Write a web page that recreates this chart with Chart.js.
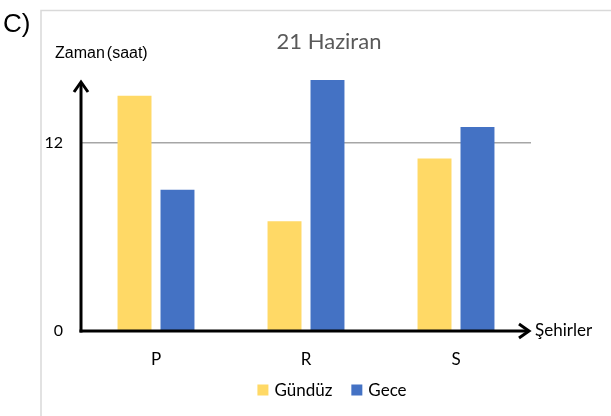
<!DOCTYPE html>
<html>
<head>
<meta charset="utf-8">
<script src="https://cdn.jsdelivr.net/npm/chart.js@4/dist/chart.umd.min.js"></script>
<style>
  html, body { margin: 0; padding: 0; background: #fff; }
  canvas { display: block; }
</style>
</head>
<body>
<canvas id="myChart" width="611" height="416"></canvas>
<script>
// values
const categories = ['P', 'R', 'S'];
const gunduz = [15, 7, 11];
const gece = [9, 16, 13];
const yTicks = [0, 12];
const seriesNames = ['Gündüz', 'Gece'];
const chartTitle = '21 Haziran';
const yTitle = 'Zaman (saat)';
const xTitle = 'Şehirler';
const partLabel = 'C)';

const yellow = '#FFD966';
const blue = '#4472C4';
const calibriLike = 'Lato, "Open Sans", sans-serif';
const arialLike = '"Liberation Sans", Arial, sans-serif';

// draws the frame, titles, arrow axes and the legend
const extras = {
  id: 'extras',
  afterDraw(chart) {
    const ctx = chart.ctx;
    const a = chart.chartArea;
    const y = chart.scales.y;
    const zeroY = y.getPixelForValue(0);
    ctx.save();

    // frame (only top and left visible)
    ctx.strokeStyle = '#d9d9d9';
    ctx.lineWidth = 1.5;
    ctx.beginPath();
    ctx.moveTo(41, 416);
    ctx.lineTo(41, 10.5);
    ctx.lineTo(611, 10.5);
    ctx.stroke();

    // C)
    ctx.fillStyle = '#000';
    ctx.font = '26px ' + arialLike;
    ctx.textBaseline = 'alphabetic';
    ctx.textAlign = 'left';
    ctx.fillText(partLabel, 3, 32);

    // y title
    ctx.font = '16px ' + arialLike;
    ctx.fillText('Zaman', 55, 58);
    ctx.fillText('(saat)', 55 + ctx.measureText('Zaman').width + 2, 58);

    // chart title
    ctx.fillStyle = '#595959';
    ctx.font = '22px ' + calibriLike;
    ctx.textAlign = 'center';
    ctx.fillText(chartTitle, 329, 49);

    // arrow axes
    ctx.strokeStyle = '#000';
    ctx.lineWidth = 3;
    ctx.lineCap = 'butt';
    ctx.lineJoin = 'miter';
    ctx.beginPath();
    ctx.moveTo(a.left, zeroY + 1.5);
    ctx.lineTo(a.left, a.top + 3);
    ctx.stroke();
    ctx.beginPath();
    ctx.moveTo(a.left - 7, a.top + 12);
    ctx.lineTo(a.left, a.top + 2);
    ctx.lineTo(a.left + 7, a.top + 12);
    ctx.stroke();

    ctx.beginPath();
    ctx.moveTo(a.left - 1.5, zeroY);
    ctx.lineTo(a.right - 2, zeroY);
    ctx.stroke();
    ctx.beginPath();
    ctx.moveTo(a.right - 12, zeroY - 7);
    ctx.lineTo(a.right - 2, zeroY);
    ctx.lineTo(a.right - 12, zeroY + 7);
    ctx.stroke();

    // x title
    ctx.fillStyle = '#000';
    ctx.font = '17px ' + calibriLike;
    ctx.textAlign = 'left';
    ctx.textBaseline = 'middle';
    ctx.fillText(xTitle, a.right + 4, zeroY);

    // legend
    ctx.font = '17px ' + calibriLike;
    const colors = [yellow, blue];
    const box = 11, gapBox = 6, gapItem = 19;
    let total = 0;
    seriesNames.forEach((n, i) => {
      total += box + gapBox + ctx.measureText(n).width + (i ? gapItem : 0);
    });
    let x = 332 - total / 2;
    const ly = 390;
    seriesNames.forEach((n, i) => {
      if (i) x += gapItem;
      ctx.fillStyle = colors[i];
      ctx.fillRect(x, ly - box / 2, box, box);
      x += box + gapBox;
      ctx.fillStyle = '#000';
      ctx.fillText(n, x, ly + 1);
      x += ctx.measureText(n).width;
    });
    ctx.restore();
  }
};

new Chart(document.getElementById('myChart'), {
  type: 'bar',
  data: {
    labels: categories,
    datasets: [
      { label: seriesNames[0], data: gunduz, backgroundColor: yellow },
      { label: seriesNames[1], data: gece, backgroundColor: blue }
    ]
  },
  options: {
    responsive: false,
    animation: false,
    layout: { padding: { top: 80, right: 80, left: 0, bottom: 0 } },
    datasets: { bar: { categoryPercentage: 0.573, barPercentage: 0.79 } },
    plugins: {
      legend: { display: false },
      title: { display: false },
      tooltip: { enabled: false }
    },
    scales: {
      x: {
        grid: { display: false, drawTicks: false },
        border: { display: false },
        ticks: { color: '#000', font: { family: calibriLike, size: 17 }, padding: 18 },
        afterFit(s) { s.height = 85; }
      },
      y: {
        min: 0,
        max: 16,
        afterBuildTicks(s) { s.ticks = yTicks.map(v => ({ value: v })); },
        grid: {
          drawTicks: false,
          color: c => (c.tick && c.tick.value === 12) ? '#a6a6a6' : 'rgba(0,0,0,0)',
          lineWidth: 1.5
        },
        border: { display: false },
        ticks: { color: '#000', font: { family: calibriLike, size: 16 }, padding: 18 },
        afterFit(s) { s.width = 81; }
      }
    }
  },
  plugins: [extras]
});
</script>
</body>
</html>
